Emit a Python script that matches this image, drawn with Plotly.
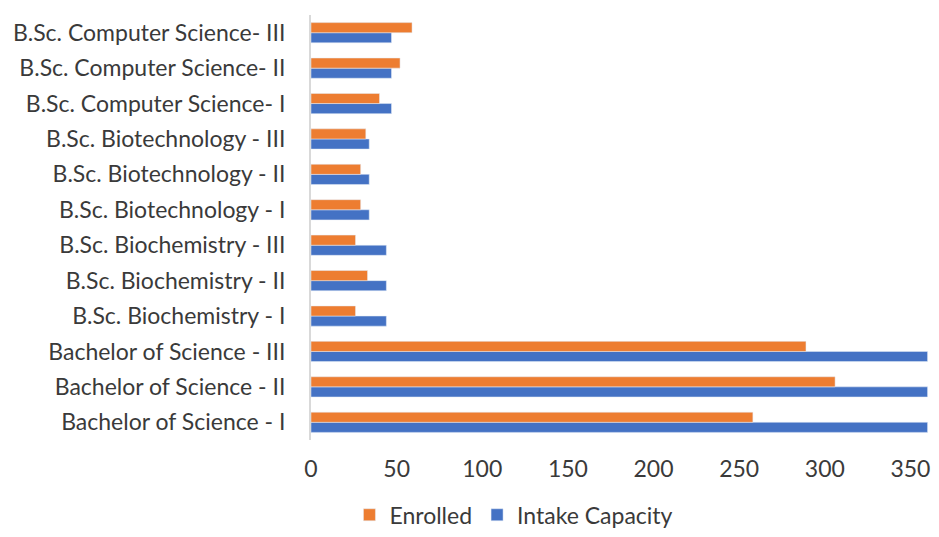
import plotly.graph_objects as go

categories = [
    "Bachelor of Science - I",
    "Bachelor of Science - II",
    "Bachelor of Science - III",
    "B.Sc. Biochemistry - I",
    "B.Sc. Biochemistry - II",
    "B.Sc. Biochemistry - III",
    "B.Sc. Biotechnology - I",
    "B.Sc. Biotechnology - II",
    "B.Sc. Biotechnology - III",
    "B.Sc. Computer Science- I",
    "B.Sc. Computer Science- II",
    "B.Sc. Computer Science- III",
]
enrolled = [258, 306, 289, 26, 33, 26, 29, 29, 32, 40, 52, 59]
intake_capacity = [360, 360, 360, 44, 44, 44, 34, 34, 34, 47, 47, 47]
x_ticks = [0, 50, 100, 150, 200, 250, 300, 350]

FONT = "Lato"
TXT = "#3a3a3a"
FS = 23

fig = go.Figure()
fig.add_trace(go.Bar(
    y=categories, x=intake_capacity, orientation="h", name="Intake Capacity",
    marker=dict(color="#4472C4"), legendrank=2,
))
fig.add_trace(go.Bar(
    y=categories, x=enrolled, orientation="h", name="Enrolled",
    marker=dict(color="#ED7D31"), legendrank=1,
))

fig.update_layout(
    width=923, height=521,
    margin=dict(l=303, r=0, t=7, b=89, autoexpand=False),
    barmode="group", bargap=0.43, bargroupgap=0,
    plot_bgcolor="white", paper_bgcolor="white",
    font=dict(family=FONT, size=FS, color=TXT),
    legend=dict(orientation="h", x=0.062, xanchor="left", y=-0.176, yanchor="middle",
                font=dict(size=FS, color=TXT), itemwidth=30, traceorder="normal"),
    showlegend=True,
)
fig.update_xaxes(range=[0, 362], tickvals=x_ticks, showgrid=False, zeroline=False,
                 showline=False, ticks="", ticklabelstandoff=13, automargin=False,
                 ticklabeloverflow="allow",
                 tickfont=dict(size=FS, color=TXT))
fig.update_yaxes(showgrid=False, showline=True, linecolor="#d9d9d9", linewidth=2,
                 ticks="", ticklabelstandoff=19, automargin=False,
                 tickfont=dict(size=FS, color=TXT))

fig.write_html("out.html")
